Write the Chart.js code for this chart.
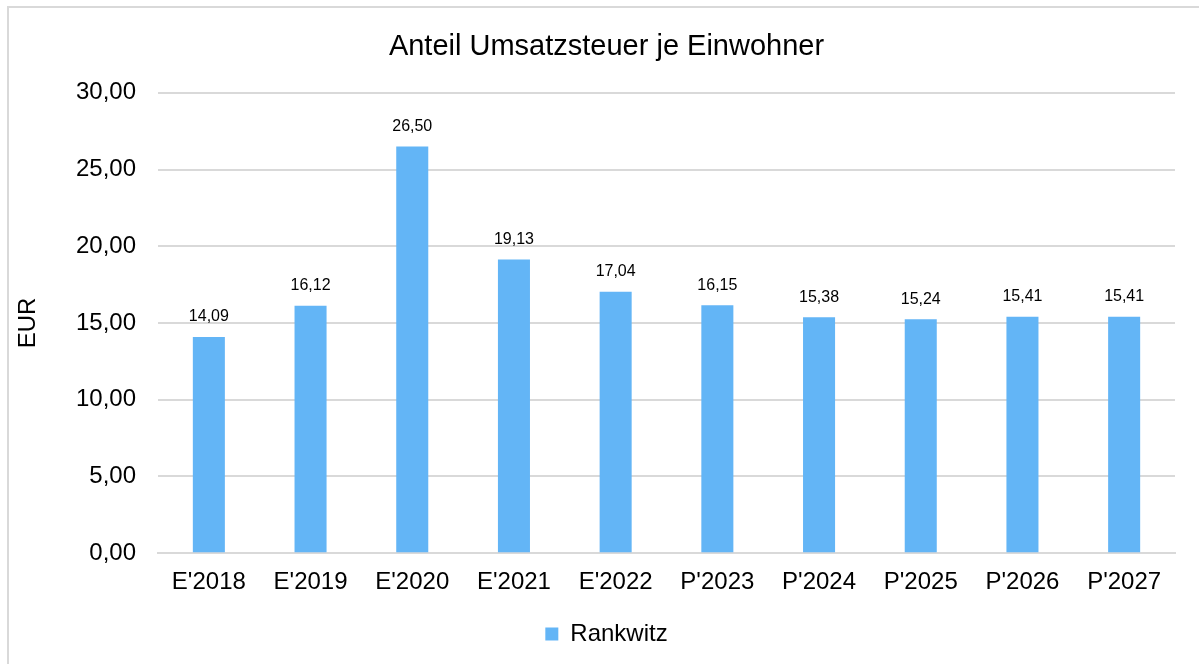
<!DOCTYPE html>
<html>
<head>
<meta charset="utf-8">
<script src="https://cdn.jsdelivr.net/npm/chart.js@4"></script>
<style>
  html, body { margin: 0; padding: 0; background: #fff; }
  #wrap { position: absolute; left: 0; top: 0; width: 1199px; height: 664px; }
</style>
</head>
<body>
<div id="wrap"><canvas id="chart" width="1199" height="664"></canvas></div>
<script>
// data
const categories = ["E'2018", "E'2019", "E'2020", "E'2021", "E'2022", "P'2023", "P'2024", "P'2025", "P'2026", "P'2027"];
const rankwitz = [14.09, 16.12, 26.50, 19.13, 17.04, 16.15, 15.38, 15.24, 15.41, 15.41];
const yTicks = [0, 5, 10, 15, 20, 25, 30];

const fmt = v => v.toFixed(2).replace('.', ',');
const FONT = "'Liberation Sans', Arial, Helvetica, sans-serif";

// outer frame like the original export
const framePlugin = {
    id: 'frame',
    beforeDraw(chart) {
        const c = chart.ctx;
        c.save();
        c.fillStyle = '#fff';
        c.fillRect(0, 0, chart.width, chart.height);
        c.strokeStyle = '#d9d9d9';
        c.lineWidth = 2;
        c.beginPath();
        c.moveTo(8, chart.height);
        c.lineTo(8, 7);
        c.lineTo(chart.width, 7);
        c.stroke();
        c.restore();
    }
};

// value labels above bars
const valueLabels = {
    id: 'valueLabels',
    afterDatasetsDraw(chart) {
        const c = chart.ctx;
        c.save();
        c.font = '16px ' + FONT;
        c.fillStyle = '#000';
        c.textAlign = 'center';
        c.textBaseline = 'middle';
        chart.getDatasetMeta(0).data.forEach((bar, i) => {
            c.fillText(fmt(rankwitz[i]), bar.x, bar.y - 20);
        });
        c.restore();
    }
};

new Chart(document.getElementById('chart').getContext('2d'), {
    type: 'bar',
    data: {
        labels: categories,
        datasets: [{
            label: 'Rankwitz',
            data: rankwitz,
            backgroundColor: 'rgb(99,181,246)',
            categoryPercentage: 1,
            barPercentage: 0.315
        }]
    },
    options: {
        responsive: false,
        animation: false,
        // left padding pushes the title centre to the right like the original
        layout: { padding: { left: 38, right: 24, top: 20, bottom: 8 } },
        plugins: {
            title: {
                display: true,
                text: 'Anteil Umsatzsteuer je Einwohner',
                color: '#000',
                font: { family: FONT, size: 29, weight: 'normal' },
                padding: { top: 10, bottom: 28 }
            },
            legend: {
                position: 'bottom',
                labels: {
                    color: '#000',
                    font: { family: FONT, size: 24 },
                    boxWidth: 13,
                    boxHeight: 13,
                    padding: 10
                }
            },
            tooltip: { enabled: false }
        },
        scales: {
            x: {
                grid: { display: false, drawTicks: false },
                border: { color: '#d9d9d9', width: 2 },
                ticks: { color: '#000', font: { family: FONT, size: 24 }, padding: 15, maxRotation: 0 }
            },
            y: {
                min: 0,
                max: 30,
                afterBuildTicks(scale) { scale.ticks = yTicks.map(v => ({ value: v })); },
                afterFit(scale) { scale.width = 120; },
                grid: { color: '#d9d9d9', lineWidth: 2, drawTicks: false },
                border: { display: false },
                ticks: { color: '#000', font: { family: FONT, size: 24 }, padding: 22, callback: v => fmt(v) },
                title: { display: true, text: 'EUR', color: '#000', font: { family: FONT, size: 24 }, padding: { top: -24, bottom: 4 } }
            }
        }
    },
    plugins: [framePlugin, valueLabels]
});
</script>
</body>
</html>
